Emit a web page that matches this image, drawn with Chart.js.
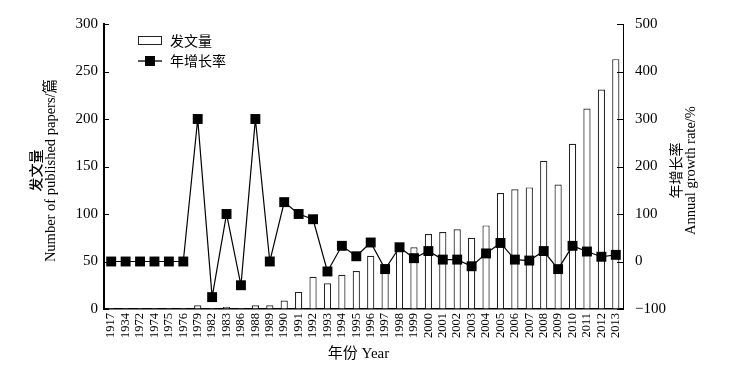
<!DOCTYPE html>
<html>
<head>
<meta charset="utf-8">
<script src="https://cdn.jsdelivr.net/npm/chart.js@4/dist/chart.umd.min.js"></script>
<style>
  html, body { margin: 0; padding: 0; background: #fff; }
  canvas { display: block; }
</style>
</head>
<body>
<canvas id="chart" width="736" height="379"></canvas>
<script>
const years = ['1917', '1934', '1972', '1974', '1975', '1976', '1979', '1982', '1983', '1986',
  '1988', '1989', '1990', '1991', '1992', '1993', '1994', '1995', '1996', '1997', '1998', '1999',
  '2000', '2001', '2002', '2003', '2004', '2005', '2006', '2007', '2008', '2009', '2010', '2011',
  '2012', '2013'];
const papers = [1, 1, 1, 1, 1, 1, 4, 1, 2, 1, 4, 4, 9, 18, 34, 27, 36, 40, 56, 47, 61, 65,
  79, 81, 84, 75, 88, 122, 126, 128, 156, 131, 174, 211, 231, 263];
const growth = [0, 0, 0, 0, 0, 0, 300, -75, 100, -50, 300, 0, 125, 100, 89, -21, 33, 11, 40, -16, 30, 7,
  22, 4, 4, -10, 17, 39, 4, 2, 22, -16, 33, 21, 10, 14];
const leftTicks = [0, 50, 100, 150, 200, 250, 300];
const rightTicks = [-100, 0, 100, 200, 300, 400, 500];

const FONT = '"Liberation Serif", "Noto Sans CJK SC", serif';
const CJK = '"Noto Sans CJK SC", sans-serif';

// inward ticks, axis titles and legend inside the plot
const decorations = {
  id: 'decorations',
  afterDraw(chart) {
    const { ctx, chartArea: a, scales } = chart;
    ctx.save();
    ctx.strokeStyle = '#000';
    ctx.lineWidth = 1;
    leftTicks.forEach(v => {
      const y = Math.round(scales.y.getPixelForValue(v)) + 0.5;
      ctx.beginPath(); ctx.moveTo(a.left, y); ctx.lineTo(a.left + 5, y); ctx.stroke();
    });
    rightTicks.forEach(v => {
      const y = Math.round(scales.y1.getPixelForValue(v)) + 0.5;
      ctx.beginPath(); ctx.moveTo(a.right - 6, y); ctx.lineTo(a.right, y); ctx.stroke();
    });

    ctx.fillStyle = '#000';
    ctx.textAlign = 'center';
    ctx.textBaseline = 'middle';
    const midY = (a.top + a.bottom) / 2 + 4;

    // left title
    ctx.save();
    ctx.translate(36, midY);
    ctx.rotate(-Math.PI / 2);
    ctx.font = '500 14px ' + CJK;
    ctx.fillText('发文量', 0, 0);
    ctx.restore();
    ctx.save();
    ctx.translate(51, midY);
    ctx.rotate(-Math.PI / 2);
    ctx.font = '14.5px ' + FONT;
    ctx.fillText('Number of published papers/篇', 0, 0);
    ctx.restore();

    // right title
    ctx.save();
    ctx.translate(676, midY);
    ctx.rotate(-Math.PI / 2);
    ctx.font = '14px ' + CJK;
    ctx.fillText('年增长率', 0, 0);
    ctx.restore();
    ctx.save();
    ctx.translate(691, midY);
    ctx.rotate(-Math.PI / 2);
    ctx.font = '14.5px ' + FONT;
    ctx.fillText('Annual growth rate/%', 0, 0);
    ctx.restore();

    // x title
    ctx.font = '15px ' + FONT;
    ctx.fillText('年份 Year', (a.left + a.right) / 2 - 5, 354);

    // legend
    ctx.textAlign = 'left';
    ctx.font = '14px ' + CJK;
    ctx.fillStyle = '#fff';
    ctx.fillRect(138.5, 36.5, 23, 8);
    ctx.strokeStyle = '#222';
    ctx.strokeRect(138.5, 36.5, 23, 8);
    ctx.fillStyle = '#000';
    ctx.fillText('发文量', 170, 41);
    ctx.strokeStyle = '#000';
    ctx.lineWidth = 1.3;
    ctx.beginPath(); ctx.moveTo(138, 61); ctx.lineTo(162, 61); ctx.stroke();
    ctx.fillRect(145, 56, 10, 10);
    ctx.fillText('年增长率', 170, 61);
    ctx.restore();
  }
};

new Chart(document.getElementById('chart'), {
  data: {
    labels: years,
    datasets: [
      {
        type: 'line',
        label: '年增长率',
        data: growth,
        yAxisID: 'y1',
        borderColor: '#000',
        borderWidth: 1.2,
        pointStyle: 'rect',
        pointRadius: 7,
        pointBackgroundColor: '#000',
        pointBorderColor: '#000',
        pointBorderWidth: 0,
        tension: 0,
        order: 1
      },
      {
        type: 'bar',
        label: '发文量',
        data: papers,
        yAxisID: 'y',
        backgroundColor: '#fff',
        borderColor: '#222',
        borderWidth: 1.2,
        barPercentage: 0.5,
        categoryPercentage: 1,
        order: 2
      }
    ]
  },
  options: {
    responsive: false,
    animation: false,
    layout: { padding: { top: 24, left: 0, right: 0, bottom: 0 } },
    plugins: {
      legend: { display: false },
      tooltip: { enabled: false }
    },
    scales: {
      x: {
        offset: true,
        grid: { display: true, drawOnChartArea: false, drawTicks: false },
        border: { display: true, color: '#000', width: 1.5 },
        ticks: {
          autoSkip: false,
          minRotation: 90,
          maxRotation: 90,
          padding: 4,
          color: '#000',
          font: { family: FONT, size: 12.5 }
        },
        afterFit: s => { s.height = 70; }
      },
      y: {
        position: 'left',
        min: 0,
        max: 300,
        grid: { display: true, drawOnChartArea: false, drawTicks: false },
        border: { display: true, color: '#000', width: 2 },
        ticks: {
          stepSize: 50,
          padding: 6,
          color: '#000',
          font: { family: FONT, size: 15 }
        },
        afterFit: s => { s.width = 104; }
      },
      y1: {
        position: 'right',
        min: -100,
        max: 500,
        grid: { display: true, drawOnChartArea: false, drawTicks: false },
        border: { display: true, color: '#000', width: 1 },
        ticks: {
          stepSize: 100,
          padding: 12,
          color: '#000',
          font: { family: FONT, size: 15 },
          callback: v => v < 0 ? '\u2212' + Math.abs(v) : v
        },
        afterFit: s => { s.width = 113; }
      }
    }
  },
  plugins: [decorations]
});
</script>
</body>
</html>
